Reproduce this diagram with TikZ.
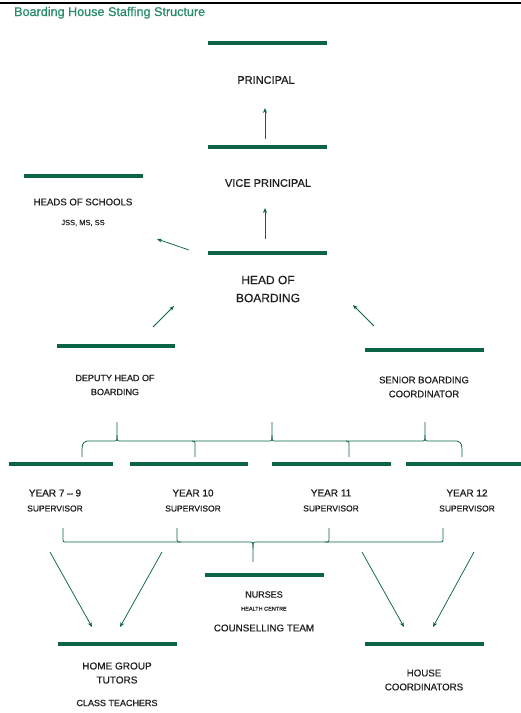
\documentclass[tikz,border=0pt]{standalone}
\usepackage{fontspec}
\setmainfont{Liberation Sans}
\newfontfamily\medfont[FakeBold=0.5,Ligatures=TeX]{Liberation Sans}
\newfontfamily\semifont[FakeBold=0.9,Ligatures=TeX]{Liberation Sans}
\usetikzlibrary{arrows.meta}
\definecolor{barg}{RGB}{12,100,72}
\definecolor{titleg}{RGB}{40,140,105}
\definecolor{txt}{RGB}{30,30,30}
\tikzset{
 bar/.style={line width=3.6pt, barg},
 conn/.style={line width=0.75pt, barg},
 arr/.style={conn, -{Stealth[length=5pt,width=4pt]}},
 lbl/.style={text=txt, inner sep=0pt, align=center},
}
\newcommand{\fs}[2]{\medfont\fontsize{#1}{#2}\selectfont}
\begin{document}
\begin{tikzpicture}[x=1pt,y=-1pt]
\useasboundingbox (0,0) rectangle (521,713);
\draw[line width=2.5pt] (0,3) -- (521,3);
\node[anchor=base west, text=titleg, inner sep=0pt, font=\semifont\fontsize{12.6}{14}\selectfont] (title) at (14,16) {Boarding House Staffing Structure};

% bars
\draw[bar] (208,43) -- (327,43);
\draw[bar] (208,147) -- (327,147);
\draw[bar] (24,176) -- (143,176);
\draw[bar] (208,253) -- (327,253);
\draw[bar] (57,346) -- (175,346);
\draw[bar] (365,350) -- (484,350);
\draw[bar] (9,464) -- (113,464);
\draw[bar] (130,464) -- (248,464);
\draw[bar] (272,464) -- (391,464);
\draw[bar] (406,464) -- (521,464);
\draw[bar] (205,575) -- (324,575);
\draw[bar] (58,644) -- (177,644);
\draw[bar] (365,644) -- (484,644);

% labels
\node[lbl, font=\fs{11}{13}] (prin) at (266,80) {PRINCIPAL};
\node[lbl, font=\fs{11}{13}] (vp) at (268,183) {VICE PRINCIPAL};
\node[lbl, font=\fs{9.6}{12}] (hos) at (83,202) {HEADS OF SCHOOLS};
\node[lbl, font=\fs{7.5}{9}] (hos2) at (83,223) {JSS, MS, SS};
\node[lbl, font=\fs{12}{18}] (hob) at (268,289) {HEAD OF\\BOARDING};
\node[lbl, font=\fs{9}{14}] (dep) at (115,385) {DEPUTY HEAD OF\\BOARDING};
\node[lbl, font=\fs{9.5}{14}] (sbc) at (424,387) {SENIOR BOARDING\\COORDINATOR};
\node[lbl, font=\semifont\fontsize{10}{15}\selectfont] (y1) at (55,500.5) {YEAR 7 – 9\\{\fontsize{8.5}{10}\selectfont SUPERVISOR}};
\node[lbl, font=\semifont\fontsize{10}{15}\selectfont] (y2) at (193,500.5) {YEAR 10\\{\fontsize{8.5}{10}\selectfont SUPERVISOR}};
\node[lbl, font=\semifont\fontsize{10}{15}\selectfont] (y3) at (331,500.5) {YEAR 11\\{\fontsize{8.5}{10}\selectfont SUPERVISOR}};
\node[lbl, font=\semifont\fontsize{10}{15}\selectfont] (y4) at (467,500.5) {YEAR 12\\{\fontsize{8.5}{10}\selectfont SUPERVISOR}};
\node[lbl, font=\fs{9}{13}] (nur) at (264,601) {NURSES\\{\fontsize{5.5}{7}\selectfont HEALTH CENTRE}};
\node[lbl, font=\fs{9.8}{12}] (cou) at (264,628) {COUNSELLING TEAM};
\node[lbl, font=\fs{10}{14}] (hg) at (117,673) {HOME GROUP\\TUTORS};
\node[lbl, font=\fs{9}{12}] (ct) at (117,703) {CLASS TEACHERS};
\node[lbl, font=\fs{9.7}{14}] (hc) at (424,680) {HOUSE\\COORDINATORS};

% arrow end coordinates
\coordinate (a1s) at (265,139); \coordinate (a1e) at (265,108);
\coordinate (a2s) at (265,239); \coordinate (a2e) at (265,208);
\coordinate (a3s) at (189,250); \coordinate (a3e) at (157,239);
\coordinate (a4s) at (153,327); \coordinate (a4e) at (174,306);
\coordinate (a5s) at (374,326); \coordinate (a5e) at (353,305);
\coordinate (a6s) at (50,552);  \coordinate (a6e) at (92,627);
\coordinate (a7s) at (162,552); \coordinate (a7e) at (120,627);
\coordinate (a8s) at (362,552); \coordinate (a8e) at (404,627);
\coordinate (a9s) at (474,552); \coordinate (a9e) at (433,627);
\foreach \i in {1,...,9} \draw[arr] (a\i s) -- (a\i e);

% upper bracket
\draw[conn] (82,457) .. controls (82,443) .. (87,441) -- (113,441)
  .. controls (117,441) .. (117,435) -- (117,422);
\draw[conn] (117,435) .. controls (117,441) .. (121,441) -- (268,441)
  .. controls (272,441) .. (272,435) -- (272,422);
\draw[conn] (272,435) .. controls (272,441) .. (276,441) -- (421,441)
  .. controls (425,441) .. (425,435) -- (425,422);
\draw[conn] (425,435) .. controls (425,441) .. (429,441) -- (457,441)
  .. controls (462,443) .. (462,457);
\draw[conn] (192,441) .. controls (195,441) .. (195,446) -- (195,457);
\draw[conn] (346,441) .. controls (349,441) .. (349,446) -- (349,457);

% lower bracket
\draw[conn] (63,528) -- (63,538) .. controls (63,542) .. (67,542) -- (249,542)
  .. controls (253,542) .. (253,548) -- (253,562);
\draw[conn] (253,548) .. controls (253,542) .. (257,542) -- (439,542)
  .. controls (443,542) .. (443,538) -- (443,528);
\draw[conn] (177,528) -- (177,538) .. controls (177,542) .. (181,542);
\draw[conn] (329,528) -- (329,538) .. controls (329,542) .. (325,542);
\end{tikzpicture}
\end{document}
